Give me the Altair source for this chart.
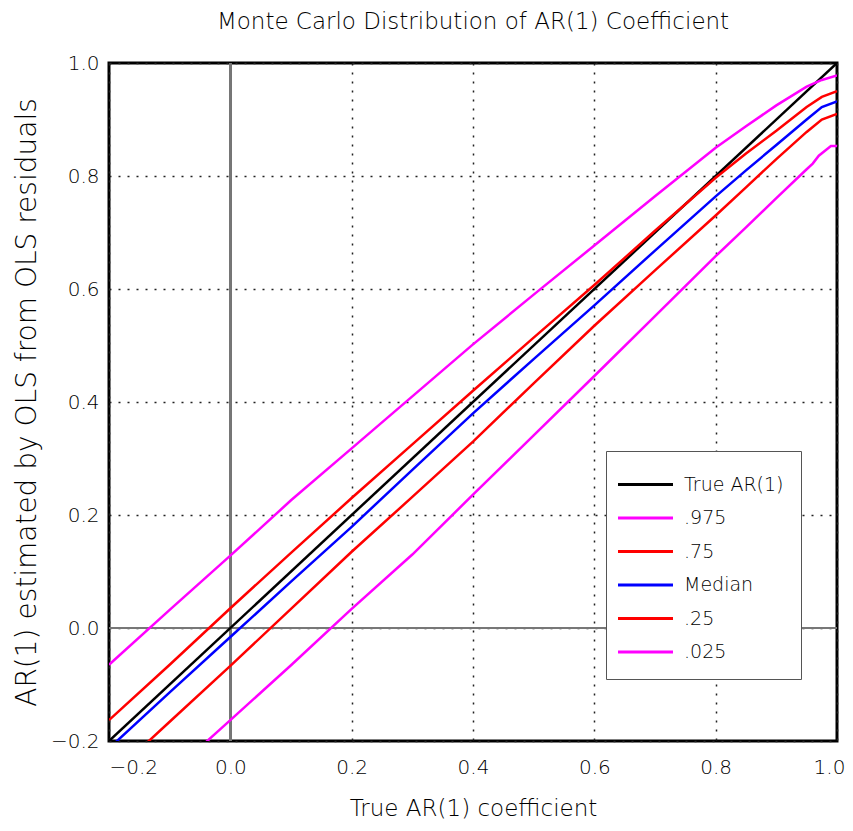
import altair as alt
import pandas as pd

# ---- data ----
series_names = ["True AR(1)", ".975", ".75", "Median", ".25", ".025"]
series_colors = ["#000000", "#ff00ff", "#ff0000", "#0000ff", "#ff0000", "#ff00ff"]

x_true = [-0.2, 1.0]
y_true = [-0.2, 1.0]

x_grid = [-0.2, -0.1, 0.0, 0.1, 0.2, 0.3, 0.4, 0.5, 0.6, 0.7, 0.8, 0.85, 0.9, 0.95, 0.975, 1.0]
y_975 = [-0.065, 0.032, 0.128, 0.226, 0.318, 0.41, 0.502, 0.59, 0.677, 0.764, 0.85, 0.888, 0.925, 0.958, 0.97, 0.978]
y_75 = [-0.163, -0.065, 0.035, 0.133, 0.23, 0.325, 0.42, 0.514, 0.607, 0.703, 0.797, 0.84, 0.88, 0.922, 0.94, 0.95]
y_med = [-0.213, -0.114, -0.016, 0.082, 0.179, 0.28, 0.38, 0.476, 0.571, 0.668, 0.764, 0.81, 0.855, 0.9, 0.922, 0.932]
y_25 = [-0.265, -0.166, -0.067, 0.034, 0.135, 0.232, 0.33, 0.433, 0.535, 0.633, 0.73, 0.78, 0.83, 0.878, 0.9, 0.91]

x_025 = [-0.2, -0.1, 0.0, 0.1, 0.2, 0.3, 0.4, 0.5, 0.6, 0.7, 0.8, 0.85, 0.9, 0.95, 0.96, 0.97, 0.99, 1.0]
y_025 = [-0.36, -0.26, -0.163, -0.066, 0.034, 0.13, 0.236, 0.341, 0.446, 0.552, 0.658, 0.709, 0.761, 0.812, 0.822, 0.836, 0.853, 0.853]

tick_values = [-0.2, 0.0, 0.2, 0.4, 0.6, 0.8, 1.0]

rows = []
for name, xs, ys in [
    ("True AR(1)", x_true, y_true),
    (".975", x_grid, y_975),
    (".75", x_grid, y_75),
    ("Median", x_grid, y_med),
    (".25", x_grid, y_25),
    (".025", x_025, y_025),
]:
    for i, (a, b) in enumerate(zip(xs, ys)):
        rows.append({"series": name, "x": a, "y": b, "order": i})
df = pd.DataFrame(rows)

FONT = "DejaVu Sans"
FW = 200

xscale = alt.Scale(domain=[-0.2, 1.0], nice=False, zero=False)
yscale = alt.Scale(domain=[-0.2, 1.0], nice=False, zero=False)

x_axis = alt.Axis(
    values=tick_values, format=".1f", grid=True, gridDash=[2, 7], gridColor="#222222",
    gridWidth=1.5, ticks=False, domain=False, labelFontSize=20, labelFont=FONT,
    labelFontWeight=FW, labelColor="#000000", labelPadding=16,
    labelAlign={"expr": "datum.value < -0.1 ? 'left' : 'center'"},
    labelOffset={"expr": "datum.value > 0.99 ? -8 : 0"},
    title="True AR(1) coefficient", titleFontSize=23, titleFont=FONT, titleFontWeight=FW,
    titleColor="#000000", titlePadding=20,
)
y_axis = alt.Axis(
    values=tick_values, format=".1f", grid=True, gridDash=[2, 7], gridColor="#222222",
    gridWidth=1.5, ticks=False, domain=False, labelFontSize=20, labelFont=FONT,
    labelFontWeight=FW, labelColor="#000000", labelPadding=10,
    title="AR(1) estimated by OLS from OLS residuals", titleFontSize=28, titleFont=FONT,
    titleFontWeight=FW, titleColor="#000000", titlePadding=9,
)

zero_v = alt.Chart(df).mark_rule(color="#777777", strokeWidth=2).encode(
    x=alt.X(datum=0.0, scale=xscale, axis=x_axis)
)
zero_h = alt.Chart(df).mark_rule(color="#777777", strokeWidth=2).encode(
    y=alt.Y(datum=0.0, scale=yscale, axis=y_axis)
)

lines = alt.Chart(df).mark_line(strokeWidth=2.5, clip=True).encode(
    x=alt.X("x:Q", scale=xscale, axis=x_axis),
    y=alt.Y("y:Q", scale=yscale, axis=y_axis),
    detail="series:N",
    order="order:Q",
    color=alt.Color(
        "series:N",
        scale=alt.Scale(domain=series_names, range=series_colors),
        sort=series_names,
        legend=alt.Legend(
            orient="none", legendX=497, legendY=388, title=None,
            symbolType="M-1.833,0H1.833", symbolSize=900, symbolStrokeWidth=3,
            symbolOffset=6, labelOffset=22, rowPadding=6.5, padding=17,
            labelFontSize=19, labelFont=FONT, labelFontWeight=FW, labelColor="#000000",
            strokeColor="#555555", fillColor="#ffffff",
        ),
    ),
)

chart = alt.layer(zero_v, zero_h, lines).properties(
    width=728, height=678,
    padding={"left": 101, "top": 55, "right": 8, "bottom": 82},
    autosize=alt.AutoSizeParams(type="none"),
    title=alt.TitleParams(
        "Monte Carlo Distribution of AR(1) Coefficient", fontSize=23, font=FONT,
        fontWeight=FW, color="#000000", anchor="middle", offset=19,
    ),
    background="#ffffff",
).configure_view(stroke="#000000", strokeWidth=3)

chart.save("out.html", embed_options={"renderer": "svg", "actions": False})
